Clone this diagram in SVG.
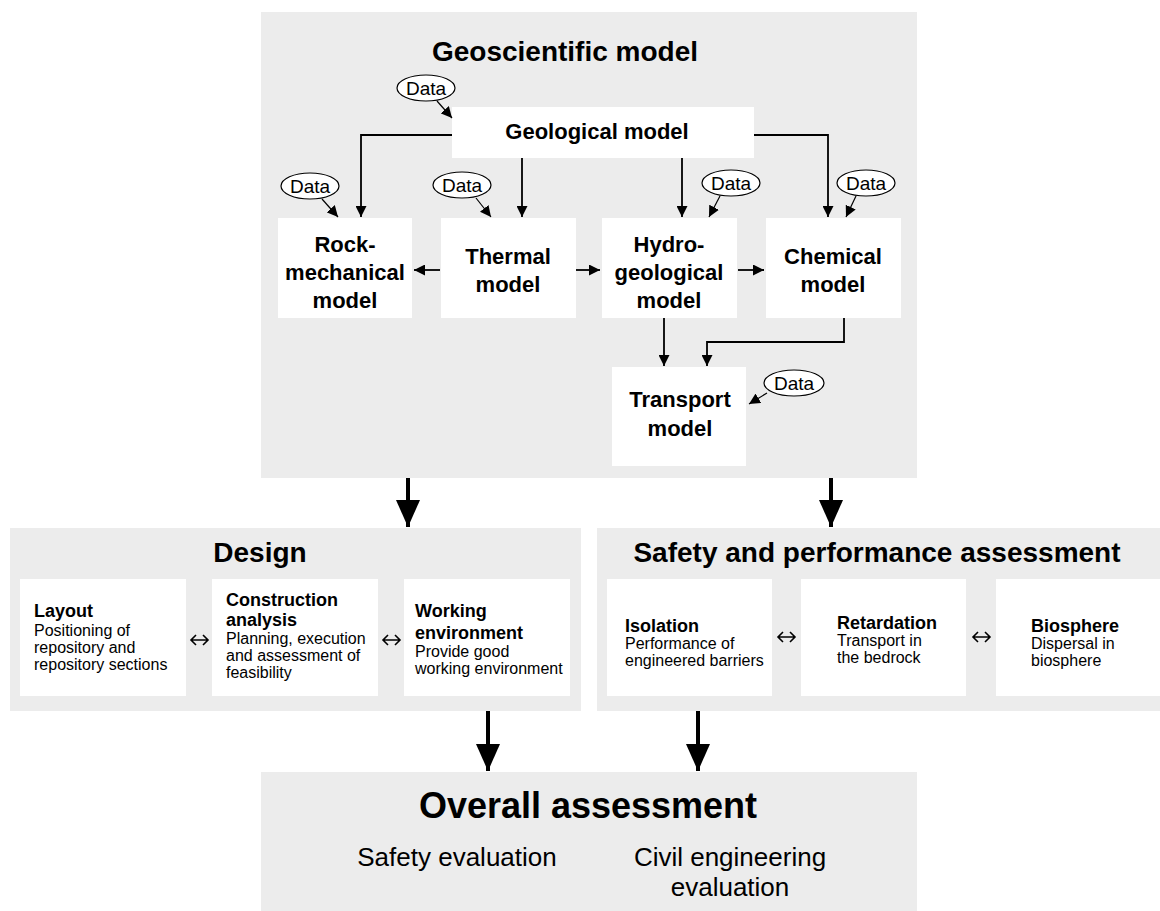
<svg xmlns="http://www.w3.org/2000/svg" width="1160" height="911" viewBox="0 0 1160 911">
<style>
.panel{fill:#ececec}
.box{fill:#ffffff}
.title{font-family:"Liberation Sans",Arial,sans-serif;font-weight:bold;font-size:28px;fill:#000;text-anchor:middle}
.nt{font-family:"Liberation Sans",Arial,sans-serif;font-weight:bold;font-size:22px;fill:#000;text-anchor:middle}
.data{font-family:"Liberation Sans",Arial,sans-serif;font-size:19px;fill:#000;text-anchor:middle}
.ell{fill:#fff;stroke:#000;stroke-width:1.2}
.bh{font-family:"Liberation Sans",Arial,sans-serif;font-weight:bold;font-size:18px;fill:#000}
.bt{font-family:"Liberation Sans",Arial,sans-serif;font-size:16px;fill:#000}
.ov{font-family:"Liberation Sans",Arial,sans-serif;font-size:26px;fill:#000;text-anchor:middle}
.c{fill:none;stroke:#000;stroke-width:1.8}
.thin{fill:none;stroke:#000;stroke-width:1.2}
.big{fill:none;stroke:#000;stroke-width:4}
.dbl{fill:none;stroke:#000;stroke-width:1.6}
</style>
<defs>
<marker id="ah" markerUnits="userSpaceOnUse" markerWidth="12" markerHeight="11" refX="11" refY="5.5" orient="auto"><path d="M0,0 L11,5.5 L0,11 z" fill="#000"/></marker>
<marker id="bah" markerUnits="userSpaceOnUse" markerWidth="28" markerHeight="24" refX="27" refY="12" orient="auto"><path d="M0,0 L27,12 L0,24 z" fill="#000"/></marker>
</defs>

<g id="geoscientific-model">
<rect class="panel" x="261" y="12" width="656" height="466"/>
<text class="title" x="565" y="61">Geoscientific model</text>
</g>
<g id="design-panel">
<rect class="panel" x="10" y="528" width="571" height="183"/>
<text class="title" x="260" y="562">Design</text>
</g>
<g id="safety-panel">
<rect class="panel" x="597" y="528" width="563" height="183"/>
<text class="title" x="877" y="562">Safety and performance assessment</text>
</g>
<g id="overall-assessment">
<rect class="panel" x="261" y="772" width="656" height="139"/>
<text class="title" x="588" y="818" style="font-size:36px">Overall assessment</text>
<text class="ov" x="457" y="866">Safety evaluation</text>
<text class="ov" x="730" y="866">Civil engineering</text>
<text class="ov" x="730" y="896">evaluation</text>
</g>

<g id="geological-model">
<rect class="box" x="452" y="107" width="302" height="51"/>
<text class="nt" x="597" y="139">Geological model</text>
</g>
<g id="rock-mechanical-model">
<rect class="box" x="278" y="218" width="134" height="100"/>
<text class="nt" x="345" y="252">Rock-</text>
<text class="nt" x="345" y="280">mechanical</text>
<text class="nt" x="345" y="308">model</text>
</g>
<g id="thermal-model">
<rect class="box" x="441" y="218" width="135" height="100"/>
<text class="nt" x="508" y="264">Thermal</text>
<text class="nt" x="508" y="292">model</text>
</g>
<g id="hydrogeological-model">
<rect class="box" x="602" y="218" width="135" height="100"/>
<text class="nt" x="669" y="252">Hydro-</text>
<text class="nt" x="669" y="280">geological</text>
<text class="nt" x="669" y="308">model</text>
</g>
<g id="chemical-model">
<rect class="box" x="766" y="218" width="135" height="100"/>
<text class="nt" x="833" y="264">Chemical</text>
<text class="nt" x="833" y="292">model</text>
</g>
<g id="transport-model">
<rect class="box" x="612" y="367" width="134" height="99"/>
<text class="nt" x="680" y="407">Transport</text>
<text class="nt" x="680" y="436">model</text>
</g>

<g id="data-geo"><ellipse class="ell" cx="426" cy="88" rx="29" ry="13"/><text class="data" x="426" y="95">Data</text></g>
<g id="data-rock"><ellipse class="ell" cx="310" cy="186" rx="29" ry="13"/><text class="data" x="310" y="193">Data</text></g>
<g id="data-thermal"><ellipse class="ell" cx="462" cy="185" rx="29" ry="13"/><text class="data" x="462" y="192">Data</text></g>
<g id="data-hydro"><ellipse class="ell" cx="731" cy="183" rx="29" ry="13"/><text class="data" x="731" y="190">Data</text></g>
<g id="data-chem"><ellipse class="ell" cx="866" cy="183" rx="29" ry="13"/><text class="data" x="866" y="190">Data</text></g>
<g id="data-transport"><ellipse class="ell" cx="794" cy="383" rx="30" ry="13"/><text class="data" x="794" y="390">Data</text></g>

<g id="design-layout">
<rect class="box" x="20" y="579" width="166" height="117"/>
<text class="bh" x="34" y="617">Layout</text>
<text class="bt" x="34" y="636">Positioning of</text>
<text class="bt" x="34" y="653">repository and</text>
<text class="bt" x="34" y="670">repository sections</text>
</g>
<g id="design-construction">
<rect class="box" x="212" y="579" width="166" height="117"/>
<text class="bh" x="226" y="606">Construction</text>
<text class="bh" x="226" y="626">analysis</text>
<text class="bt" x="226" y="644">Planning, execution</text>
<text class="bt" x="226" y="661">and assessment of</text>
<text class="bt" x="226" y="678">feasibility</text>
</g>
<g id="design-working">
<rect class="box" x="404" y="579" width="166" height="117"/>
<text class="bh" x="415" y="617">Working</text>
<text class="bh" x="415" y="639">environment</text>
<text class="bt" x="415" y="657">Provide good</text>
<text class="bt" x="415" y="674">working environment</text>
</g>
<g id="safety-isolation">
<rect class="box" x="607" y="579" width="165" height="117"/>
<text class="bh" x="625" y="632">Isolation</text>
<text class="bt" x="625" y="649">Performance of</text>
<text class="bt" x="625" y="666">engineered barriers</text>
</g>
<g id="safety-retardation">
<rect class="box" x="801" y="579" width="165" height="117"/>
<text class="bh" x="837" y="629">Retardation</text>
<text class="bt" x="837" y="646">Transport in</text>
<text class="bt" x="837" y="663">the bedrock</text>
</g>
<g id="safety-biosphere">
<rect class="box" x="996" y="579" width="164" height="117"/>
<text class="bh" x="1031" y="632">Biosphere</text>
<text class="bt" x="1031" y="649">Dispersal in</text>
<text class="bt" x="1031" y="666">biosphere</text>
</g>

<g id="connectors">
<path class="c" d="M452,135 H361 V217" marker-end="url(#ah)"/>
<path class="c" d="M522,158 V217" marker-end="url(#ah)"/>
<path class="c" d="M682,158 V217" marker-end="url(#ah)"/>
<path class="c" d="M754,135 H828 V217" marker-end="url(#ah)"/>
<path class="c" d="M440,270 H414" marker-end="url(#ah)"/>
<path class="c" d="M576,270 H600" marker-end="url(#ah)"/>
<path class="c" d="M738,270 H764" marker-end="url(#ah)"/>
<path class="c" d="M664,318 V366" marker-end="url(#ah)"/>
<path class="c" d="M844,318 V342 H707 V366" marker-end="url(#ah)"/>
<path class="thin" d="M437,101 L452,118" marker-end="url(#ah)"/>
<path class="thin" d="M322,199 L338,217" marker-end="url(#ah)"/>
<path class="thin" d="M476,198 L491,217" marker-end="url(#ah)"/>
<path class="thin" d="M720,196 L709,217" marker-end="url(#ah)"/>
<path class="thin" d="M856,196 L846,217" marker-end="url(#ah)"/>
<path class="thin" d="M767,393 L749,404" marker-end="url(#ah)"/>
<path class="big" d="M408,478 V527" marker-end="url(#bah)"/>
<path class="big" d="M831,478 V527" marker-end="url(#bah)"/>
<path class="big" d="M488,711 V771" marker-end="url(#bah)"/>
<path class="big" d="M698,711 V771" marker-end="url(#bah)"/>
<path class="dbl" d="M191,640 H208 M196,635 L191,640 L196,645 M203,635 L208,640 L203,645"/>
<path class="dbl" d="M383,640 H400 M388,635 L383,640 L388,645 M395,635 L400,640 L395,645"/>
<path class="dbl" d="M778,637 H795 M783,632 L778,637 L783,642 M790,632 L795,637 L790,642"/>
<path class="dbl" d="M973,637 H990 M978,632 L973,637 L978,642 M985,632 L990,637 L985,642"/>
</g>
</svg>
